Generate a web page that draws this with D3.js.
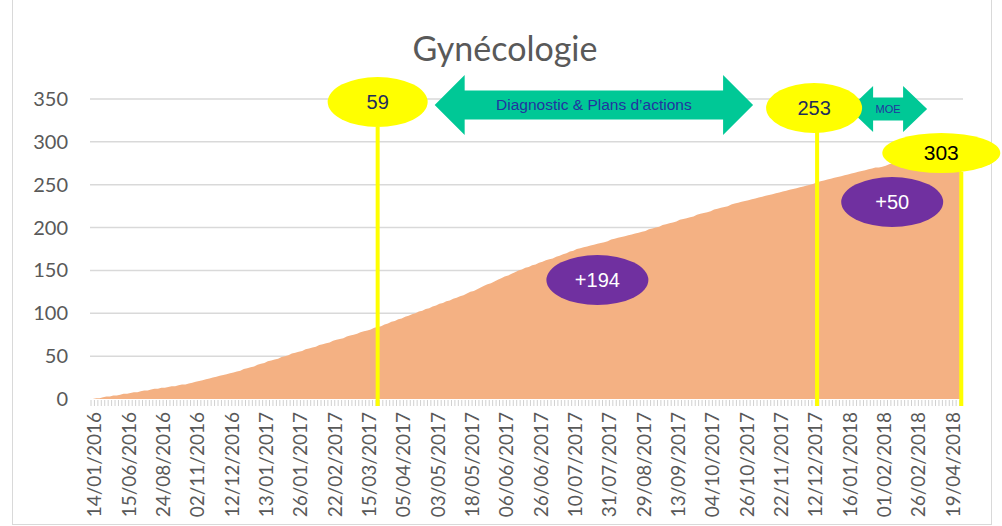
<!DOCTYPE html>
<head>
	<meta charset="utf-8">
	<style>
		body { margin: 0; background: #fff; }
		svg { font-family: Lato, "Open Sans", sans-serif; }
		svg .grid line { stroke: #d9d9d9; stroke-width: 1.5; }
		svg .ylab, svg .xlab, svg .title { fill: #595959; }
		svg .tick { stroke: #d0d0d0; }
	</style>
</head>
<body>
	<svg width="1002" height="526"></svg>
	<script src="https://cdn.jsdelivr.net/npm/d3@7"></script>
	<script>

		// one entry per case, labels shown every 10th category
		var tickLabels = ["14/01/2016", "15/06/2016", "24/08/2016", "02/11/2016", "12/12/2016", "13/01/2017",
			"26/01/2017", "22/02/2017", "15/03/2017", "05/04/2017", "03/05/2017", "18/05/2017", "06/06/2017",
			"26/06/2017", "10/07/2017", "31/07/2017", "29/08/2017", "13/09/2017", "04/10/2017", "26/10/2017",
			"22/11/2017", "12/12/2017", "16/01/2018", "01/02/2018", "26/02/2018", "19/04/2018"];
		var labelEvery = 10;

		var values = [0, 1, 1, 2, 3, 3, 4, 4, 5, 6, 6, 7, 8, 8, 9, 10, 10, 11, 12, 12, 13, 13, 14, 15, 15, 16, 17, 17, 18,
			19, 20, 21, 22, 23, 24, 25, 26, 27, 28, 29, 30, 31, 32,
			33, 35, 36, 37, 38, 40, 41, 42, 44, 45, 46, 47, 49, 50,
			51, 53, 54, 55, 56, 58, 59, 60, 61, 63, 64, 65, 66, 68, 69,
			70, 71, 73, 74, 75, 76, 78, 79, 80, 81, 83, 84,
			85, 87, 88, 90, 91, 93, 94, 96, 97, 99,
			100, 102, 103, 105, 106, 108, 109, 111, 112, 114, 115, 117, 118, 120, 121,
			123, 125, 126, 128, 130, 132, 134, 135, 137, 139, 141, 143, 144, 146, 148, 150,
			151, 153, 154, 156, 157, 159, 160, 162, 163, 164, 166, 167, 169, 170, 172, 173, 175, 176,
			177, 178, 179, 180, 181, 182, 183, 184, 186, 187, 188, 189, 190, 191, 192, 193, 194, 195, 196, 198, 199,
			200, 201, 203, 204, 205, 206, 207, 209, 210, 211, 212, 213, 215, 216, 217, 218, 219, 221, 222, 223, 224, 225, 227, 228, 229,
			230, 231, 232, 233, 234, 235, 236, 237, 238, 239, 240, 241, 242, 243, 244, 245, 246, 247, 248, 249, 250, 251, 253,
			254, 255, 256, 257, 258, 259, 260, 261, 262, 263, 264, 265, 266, 267, 268, 269, 270, 270, 271,
			272, 274, 275, 277, 278, 279, 281, 282, 284, 285, 286, 288, 289, 291, 292, 293, 295, 296, 298, 299, 300, 302, 303];

		var yTicks = [0, 50, 100, 150, 200, 250, 300, 350];

		// milestones (category index) and what happened between them
		var milestoneIdx = [83, 211, 253];
		var milestoneText = ["59", "253", "303"];
		var gainText = ["+194", "+50"];
		var phaseText = ["Diagnostic & Plans d\u2019actions", "MOE"];

		var svg = d3.select("svg");

		var x = d3.scalePoint()
			.domain(d3.range(values.length))
			.range([91, 963])
			.padding(0.5);

		var y = d3.scaleLinear()
			.domain([0, 350])
			.range([399, 99]);

		// frame
		svg.append("rect")
			.attr("x", 12.5).attr("y", -1)
			.attr("width", 979).attr("height", 525.5)
			.attr("fill", "none").attr("stroke", "#d9d9d9");

		svg.append("text")
			.attr("class", "title")
			.attr("x", 505).attr("y", 61)
			.attr("text-anchor", "middle")
			.attr("font-size", 34)
			.text("Gynécologie");

		// grid
		svg.append("g").attr("class", "grid")
			.selectAll("line")
			.data(yTicks.slice(1))
			.enter().append("line")
			.attr("x1", 90).attr("x2", 963)
			.attr("y1", y).attr("y2", y);

		svg.selectAll(".ylab")
			.data(yTicks)
			.enter().append("text")
			.attr("class", "ylab")
			.attr("x", 68)
			.attr("y", y)
			.attr("dy", ".35em")
			.attr("text-anchor", "end")
			.attr("font-size", 20)
			.text(String);

		// area
		var area = d3.area()
			.x(function (d, i) { return x(i); })
			.y0(y(0))
			.y1(function (d) { return y(d); });

		svg.append("path")
			.datum(values)
			.attr("fill", "#f4b183")
			.attr("d", area);

		// category ticks
		svg.append("g")
			.selectAll("line")
			.data(d3.range(values.length))
			.enter().append("line")
			.attr("class", "tick")
			.attr("x1", function (i) { return x(i) - x.step() / 2; })
			.attr("x2", function (i) { return x(i) - x.step() / 2; })
			.attr("y1", 400).attr("y2", 406);

		svg.selectAll(".xlab")
			.data(tickLabels)
			.enter().append("text")
			.attr("class", "xlab")
			.attr("transform", function (d, k) {
				return "translate(" + (x(k * labelEvery) + 2) + ",412) rotate(-90)";
			})
			.attr("dy", ".35em")
			.attr("text-anchor", "end")
			.attr("font-size", 19)
			.text(String);

		// annotations
		var mx = milestoneIdx.map(function (i) { return x(i); });
		var lineTop = [127, 132, 172];

		svg.selectAll(".mline")
			.data(mx)
			.enter().append("line")
			.attr("class", "mline")
			.attr("x1", function (d) { return d; })
			.attr("x2", function (d) { return d; })
			.attr("y1", function (d, i) { return lineTop[i]; })
			.attr("y2", 406)
			.attr("stroke", "#ffff00")
			.attr("stroke-width", 4);

		function arrow(x0, x1, cy, h, H, s) {
			return "M" + x0 + "," + cy + "L" + (x0 + h) + "," + (cy - H) + "L" + (x0 + h) + "," + (cy - s)
				+ "L" + (x1 - h) + "," + (cy - s) + "L" + (x1 - h) + "," + (cy - H) + "L" + x1 + "," + cy
				+ "L" + (x1 - h) + "," + (cy + H) + "L" + (x1 - h) + "," + (cy + s) + "L" + (x0 + h) + "," + (cy + s)
				+ "L" + (x0 + h) + "," + (cy + H) + "Z";
		}

		var phases = [
			{ x0: mx[0] + 57, x1: mx[1] - 64, cy: 105, h: 30, H: 30, s: 14.5, fs: 15.5 },
			{ x0: mx[1] + 32, x1: mx[1] + 110, cy: 109, h: 24, H: 23, s: 11.5, fs: 11 }
		];
		phases.forEach(function (p, i) {
			svg.append("path")
				.attr("d", arrow(p.x0, p.x1, p.cy, p.h, p.H, p.s))
				.attr("fill", "#00c896");
			svg.append("text")
				.attr("x", (p.x0 + p.x1) / 2).attr("y", p.cy)
				.attr("dy", ".35em")
				.attr("text-anchor", "middle")
				.attr("font-family", "Liberation Sans, Arial, sans-serif")
				.attr("font-size", p.fs)
				.attr("fill", "#2233a0")
				.text(phaseText[i]);
		});

		var bubbles = [
			{ cx: mx[0], cy: 102, rx: 50, ry: 25, fill: "#ffff00", color: "#1f2d5c", text: milestoneText[0], fs: 20 },
			{ cx: mx[1] - 3, cy: 108, rx: 48, ry: 25, fill: "#ffff00", color: "#1f2d5c", text: milestoneText[1], fs: 20 },
			{ cx: mx[2] - 20, cy: 153, rx: 59, ry: 20, fill: "#ffff00", color: "#000", text: milestoneText[2], fs: 21 },
			{ cx: (mx[0] + mx[1]) / 2, cy: 280, rx: 51, ry: 25, fill: "#7030a0", color: "#fff", text: gainText[0], fs: 20 },
			{ cx: (mx[1] + mx[2]) / 2 + 3, cy: 202, rx: 51, ry: 25, fill: "#7030a0", color: "#fff", text: gainText[1], fs: 20 }
		];

		svg.selectAll(".bubble")
			.data(bubbles)
			.enter().append("ellipse")
			.attr("class", "bubble")
			.attr("cx", function (d) { return d.cx; })
			.attr("cy", function (d) { return d.cy; })
			.attr("rx", function (d) { return d.rx; })
			.attr("ry", function (d) { return d.ry; })
			.attr("fill", function (d) { return d.fill; });

		svg.selectAll(".btext")
			.data(bubbles)
			.enter().append("text")
			.attr("class", "btext")
			.attr("x", function (d) { return d.cx; })
			.attr("y", function (d) { return d.cy; })
			.attr("dy", ".35em")
			.attr("text-anchor", "middle")
			.attr("font-family", "Liberation Sans, Arial, sans-serif")
			.attr("font-size", function (d) { return d.fs; })
			.attr("fill", function (d) { return d.color; })
			.text(function (d) { return d.text; });

	</script>
</body>
